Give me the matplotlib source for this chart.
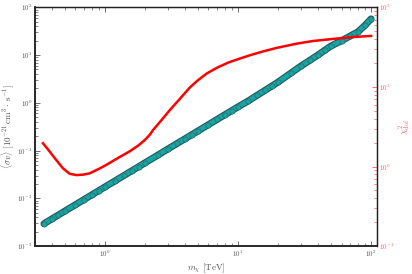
import numpy as np
import matplotlib
matplotlib.use("Agg")
import matplotlib.pyplot as plt
from matplotlib.ticker import FuncFormatter, LogLocator

plt.rcParams['mathtext.fontset'] = 'cm'
plt.rcParams['font.family'] = ['DejaVu Serif']

# Cross-section limit (left axis)
mass_sv = [0.35, 0.4, 0.45, 0.5, 0.6, 0.7, 0.8, 0.9, 1.0, 1.2, 1.4, 1.6, 1.8, 2.0,
           2.5, 3.0, 3.5, 4.0, 4.5, 5.0, 6.0, 7.0, 8.0, 9.0, 10.0, 12.0, 14.0, 16.0,
           18.0, 20.0, 25.0, 30.0, 35.0, 40.0, 45.0, 50.0, 60.0, 70.0, 80.0, 90.0, 100.0]
sigmav = [2.94e-3, 3.68e-3, 4.49e-3, 5.36e-3, 7.28e-3, 9.42e-3, 1.18e-2, 1.44e-2,
          1.72e-2, 2.33e-2, 3.02e-2, 3.78e-2, 4.60e-2, 5.50e-2, 8.00e-2, 0.109,
          0.141, 0.176, 0.215, 0.256, 0.348, 0.451, 0.565, 0.687, 0.822, 1.10,
          1.45, 1.83, 2.25, 2.71, 4.2, 6.0, 7.9, 10.1, 12.7, 15.5, 20.0, 25.3,
          31.0, 42.0, 57.5]

# Chi^2 per dof (right axis)
mass_chi = [0.344, 0.38, 0.421, 0.486, 0.546, 0.613, 0.69, 0.771, 0.9, 1.0, 1.15,
            1.3, 1.54, 1.8, 2.0, 2.18, 2.31, 2.59, 3.08, 3.7, 4.35, 5.0, 5.85, 7.0,
            8.5, 10.0, 12.3, 15.5, 19.6, 27.6, 36.6, 49.2, 65.7, 80.0, 100.0]
chi2 = [1.96, 1.6, 1.28, 0.95, 0.81, 0.78, 0.79, 0.82, 0.93, 1.02, 1.17,
        1.32, 1.55, 1.85, 2.15, 2.5, 2.88, 3.6, 5.1, 7.2, 9.8, 12.1, 14.8, 17.5,
        20.3, 22.3, 25.0, 28.0, 31.0, 35.0, 37.8, 39.8, 41.7, 42.8, 43.8]

fig = plt.figure(figsize=(4.12, 2.74), dpi=100)
ax = fig.add_axes([0.085, 0.102, 0.829, 0.871])
ax2 = ax.twinx()

ax.plot(mass_sv, sigmav, '-', color='#1f5a5a', lw=5.0, solid_capstyle='round', zorder=2)
ax.plot(mass_sv, sigmav, '-', color='#19a3a3', lw=3.4, solid_capstyle='round', zorder=3)
ax.plot(mass_sv, sigmav, 'o', color='#19a3a3', mec='#2a6060', mew=0.4, ms=3.8, zorder=4)

ax2.plot(mass_chi, chi2, '-', color='red', lw=1.8)

ax.set_xscale('log')
ax.set_yscale('log')
ax2.set_yscale('log')
ax.set_xlim(0.3, 110)
ax.set_ylim(1e-3, 1e2)
ax2.set_ylim(1e-1, 1e2)

fmt = FuncFormatter(lambda v, p: r'$10^{%d}$' % int(round(np.log10(v))))
for a in (ax, ax2):
    a.xaxis.set_major_locator(LogLocator(base=10))
    a.yaxis.set_major_locator(LogLocator(base=10))
    a.yaxis.set_major_formatter(fmt)
ax.xaxis.set_major_formatter(fmt)

ax.tick_params(which='both', direction='in', top=True, labelsize=5, colors='#555555', pad=2)
ax.tick_params(which='major', length=3.5, width=0.6)
ax.tick_params(which='minor', length=2, width=0.5)
ax2.tick_params(which='both', direction='in', labelsize=5, colors='#ff5555', pad=2)
ax2.tick_params(which='major', length=3.5, width=0.6)
ax2.tick_params(which='minor', length=2, width=0.5)
for a in (ax, ax2):
    for name, s in a.spines.items():
        s.set_color('#222222')
        s.set_linewidth(1.1 if name in ('left', 'bottom') else 0.9)

ax.set_xlabel(r'$m_\chi\ [\mathrm{TeV}]$', fontsize=6.5, color='#555555', labelpad=2)
ax.set_ylabel(r'$\langle\sigma v\rangle\ [10^{-21}\,\mathrm{cm}^3\cdot\,\mathrm{s}^{-1}]$',
              fontsize=6.5, color='#555555', labelpad=0.5)
ax2.set_ylabel(r'$\chi^2_{\rm dof}$', fontsize=6.5, color='#ff5555', labelpad=1)

fig.savefig('out.png', dpi=100)
